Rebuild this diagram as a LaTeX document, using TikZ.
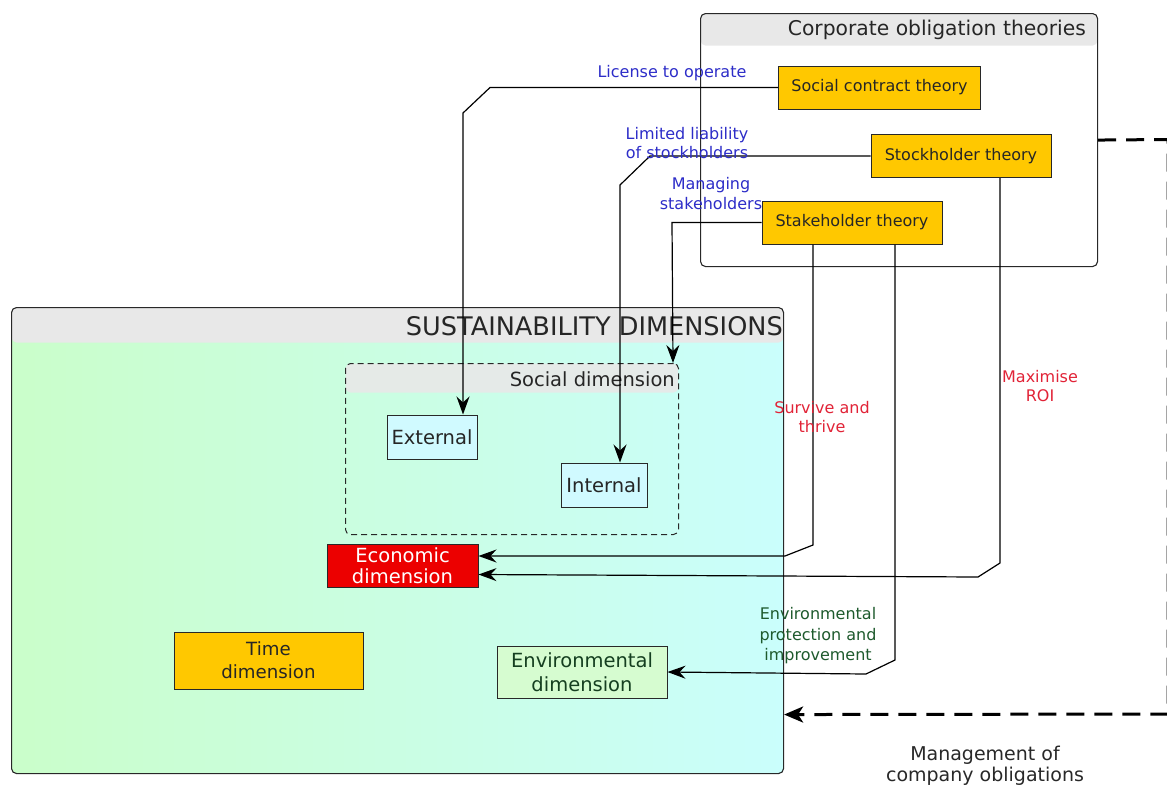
\documentclass[tikz,border=0pt]{standalone}
\usepackage{fontspec}
\setmainfont{DejaVu Sans}
\usetikzlibrary{arrows.meta}

\definecolor{gold}{RGB}{255,200,0}
\definecolor{hdr}{RGB}{232,232,232}
\definecolor{lblue}{RGB}{45,45,200}
\definecolor{lred}{RGB}{225,35,55}
\definecolor{lgreen}{RGB}{30,90,45}
\definecolor{ecored}{RGB}{236,0,0}
\definecolor{extfill}{RGB}{208,250,255}
\definecolor{envfill}{RGB}{214,252,208}
\definecolor{gleft}{RGB}{202,254,202}
\definecolor{gright}{RGB}{202,254,252}
\definecolor{ink}{RGB}{40,40,40}

\tikzset{
  boxbase/.style={draw=ink, line width=1pt, inner sep=0pt, align=center, text=black!85},
  theory/.style={boxbase, fill=gold, font=\fontsize{16}{19}\selectfont},
  dimbox/.style={boxbase, font=\fontsize{19.5}{21.5}\selectfont},
  container/.style={draw=ink, line width=1.1pt, rounded corners=5pt, inner sep=0pt},
  title/.style={anchor=east, inner sep=0pt, text=black!85},
  conn/.style={draw=black, line width=1.2pt, -{Stealth[length=18pt,width=13pt,inset=6pt]}},
  lab/.style={inner sep=0pt, align=center, font=\fontsize{16}{19.5}\selectfont},
  mgmt/.style={draw=black, line width=3pt, dash pattern=on 18pt off 10pt,
    -{Stealth[length=19pt,width=16pt,inset=5pt]}}
}

\begin{document}
\begin{tikzpicture}[x=1pt,y=-1pt]
\useasboundingbox (0,0) rectangle (1167,790);

% ---- containers ----
\node[container, fill=white, anchor=north west, minimum width=397pt, minimum height=253pt,
  path picture={\fill[hdr] (path picture bounding box.north west) rectangle
     ([yshift=-32pt]path picture bounding box.north east);}] (corp) at (700,13) {};
\node[title, font=\fontsize{20.3}{24}\selectfont] (corptitle) at (1086,30) {Corporate obligation theories};

\node[container, left color=gleft, right color=gright, anchor=north west,
  minimum width=772pt, minimum height=466pt,
  path picture={\fill[hdr] (path picture bounding box.north west) rectangle
     ([yshift=-35pt]path picture bounding box.north east);}] (sust) at (11,307) {};
\node[title, font=\fontsize{25.6}{30}\selectfont] (susttitle) at (783,326) {SUSTAINABILITY DIMENSIONS};

\node[container, line width=1pt, dash pattern=on 6pt off 4pt, anchor=north west,
  minimum width=333pt, minimum height=171pt,
  path picture={\fill[hdr, opacity=0.9] (path picture bounding box.north west) rectangle
     ([yshift=-29pt]path picture bounding box.north east);}] (social) at (345,363) {};
\node[title, font=\fontsize{19.5}{22}\selectfont] (socialtitle) at (675,379) {Social dimension};

% ---- theory boxes ----
\node[theory, minimum width=202pt, minimum height=43pt] (sct) at (879.5,87.5) {Social contract theory};
\node[theory, minimum width=180pt, minimum height=43pt] (stock) at (961,156) {Stockholder theory};
\node[theory, minimum width=180pt, minimum height=43pt] (stake) at (852,222.5) {Stakeholder theory};

% ---- dimension boxes ----
\node[dimbox, fill=extfill, minimum width=90pt, minimum height=44pt] (ext) at (432,437) {External};
\node[dimbox, fill=extfill, minimum width=86pt, minimum height=44pt] (int) at (604,485) {Internal};
\node[dimbox, fill=ecored, text=white, minimum width=151pt, minimum height=43pt] (eco) at (402.5,565.5) {Economic\\dimension};
\node[dimbox, fill=gold, font=\fontsize{18.2}{23}\selectfont, minimum width=189pt, minimum height=57pt] (time) at (268.5,660.5) {Time\\dimension};
\node[dimbox, fill=envfill, text=lgreen!70!black, font=\fontsize{19.5}{23.5}\selectfont,
  minimum width=170pt, minimum height=52pt] (env) at (582,672) {Environmental\\dimension};

% ---- connectors ----
\draw[conn] (sct.west) -- (490,87.5) -- (463,113) -- ([xshift=31pt]ext.north);
\draw[conn] (stock.west) -- (650,156) -- (620,185) -- ([xshift=16pt]int.north);
\draw[conn] (stake.west) -- (672,222.5) -- ([xshift=-6pt]social.north east);
\draw[conn] ([xshift=-39pt]stake.south) -- (813,545) -- (785,556) -- ([yshift=9.5pt]eco.east);
\draw[conn] ([xshift=39pt]stock.south) -- (1000,563) -- (978,577) -- ([yshift=-9pt]eco.east);
\draw[conn] ([xshift=43pt]stake.south) -- (895,660) -- (866,674) -- (env.east);

\draw[mgmt] (corp.east) -- (1168,139.5) -- (1168,714) -- ([yshift=-174pt]sust.east);

% ---- labels ----
\node[lab, text=lblue] (l1) at (672,73) {License to operate};
\node[lab, text=lblue] (l2) at (687,143) {Limited liability\\of stockholders};
\node[lab, text=lblue] (l3) at (711,193.5) {Managing\\stakeholders};
\node[lab, text=lred] (l4) at (822,417) {Survive and\\thrive};
\node[lab, text=lred] (l5) at (1040,386) {Maximise\\ROI};
\node[lab, text=lgreen, font=\fontsize{16}{20.5}\selectfont] (l6) at (818,636) {Environmental\\protection and\\improvement};
\node[lab, text=ink, font=\fontsize{19}{21}\selectfont] (l7) at (985,766) {Management of\\company obligations};
\end{tikzpicture}
\end{document}
